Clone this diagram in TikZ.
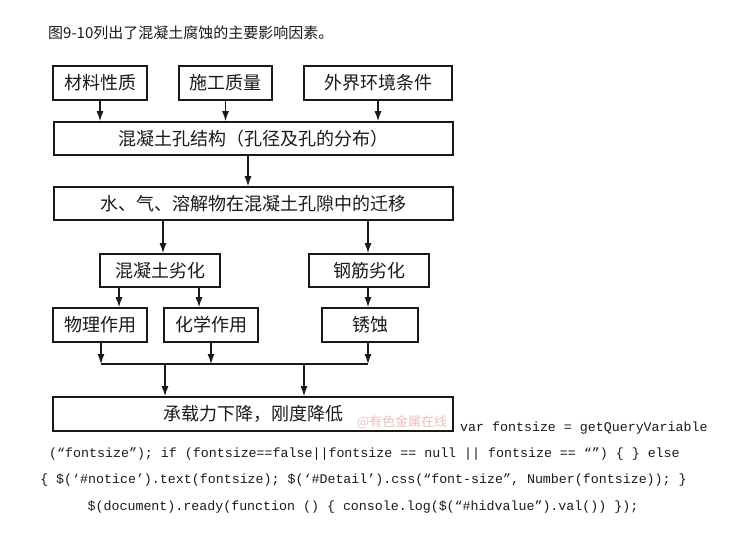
\documentclass[tikz,border=0pt]{standalone}
\usepackage{fontspec}
\newfontfamily\cjk{Noto Sans CJK SC}
\newfontfamily\codefont{Liberation Mono}
\usetikzlibrary{arrows.meta}
\definecolor{wmpink}{RGB}{238,188,188}
\definecolor{ink}{RGB}{25,25,25}
\begin{document}
\begin{tikzpicture}[x=1pt,y=-1pt,
  box/.style={draw=ink, line width=1.7pt, minimum height=34pt, inner sep=0pt,
    font=\cjk\fontsize{18}{20}\selectfont, text=ink},
  arr/.style={draw=ink, line width=1.2pt, -{Latex[length=10pt,width=7pt]}},
  bus/.style={draw=ink, line width=1.2pt},
  code/.style={inner sep=0pt, font=\codefont\fontsize{13.3}{16}\selectfont, text=ink},
  title/.style={inner sep=0pt, font=\cjk\fontsize{15}{17}\selectfont, text=ink}]
\useasboundingbox (0,0) rectangle (730,552);

\node[title, anchor=west] (t) at (48,33) {图9-10列出了混凝土腐蚀的主要影响因素。};

\node[box, minimum width=94pt] (n1) at (100,83) {材料性质};
\node[box, minimum width=93pt] (n2) at (225.5,83) {施工质量};
\node[box, minimum width=148pt] (n3) at (378,83) {外界环境条件};
\node[box, minimum width=399pt, minimum height=33pt] (n4) at (253.5,138.5) {混凝土孔结构（孔径及孔的分布）};
\node[box, minimum width=399pt, minimum height=33pt] (n5) at (253.5,203.5) {水、气、溶解物在混凝土孔隙中的迁移};
\node[box, minimum width=120pt, minimum height=33pt] (n6) at (160,270.5) {混凝土劣化};
\node[box, minimum width=120pt, minimum height=33pt] (n7) at (369,270.5) {钢筋劣化};
\node[box, minimum width=94pt] (n8) at (100,325) {物理作用};
\node[box, minimum width=94pt] (n9) at (211,325) {化学作用};
\node[box, minimum width=96pt] (n10) at (370,325) {锈蚀};
\node[box, minimum width=400pt] (n11) at (253,414) {承载力下降，刚度降低};

\node[inner sep=0pt, font=\cjk\fontsize{13}{14}\selectfont, text=wmpink] (wm) at (402,422) {@有色金属在线};

\draw[arr] (n1.south) -- (n1.south |- n4.north);
\draw[arr] (n2.south) -- (n2.south |- n4.north);
\draw[arr] (n3.south) -- (n3.south |- n4.north);

\coordinate (c45) at (248,0);
\draw[arr] (n4.south -| c45) -- (n5.north -| c45);

\coordinate (c56) at (163,0);
\coordinate (c57) at (368,0);
\draw[arr] (n5.south -| c56) -- (n6.north -| c56);
\draw[arr] (n5.south -| c57) -- (n7.north -| c57);

\coordinate (c68) at (119,0);
\coordinate (c69) at (199,0);
\draw[arr] (n6.south -| c68) -- (n8.north -| c68);
\draw[arr] (n6.south -| c69) -- (n9.north -| c69);
\draw[arr] (n7.south -| c57) -- (n10.north -| c57);

\coordinate (bL) at (101,364);
\coordinate (bM) at (211,364);
\coordinate (bR) at (368,364);
\draw[bus] (bL) -- (bR);
\draw[arr] (n8.south -| bL) -- (bL);
\draw[arr] (n9.south -| bM) -- (bM);
\draw[arr] (n10.south -| bR) -- (bR);

\coordinate (d1) at (165,364);
\coordinate (d2) at (304,364);
\draw[arr] (d1) -- (d1 |- n11.north);
\draw[arr] (d2) -- (d2 |- n11.north);

\node[code, anchor=base west] (l1) at (460,431) {var fontsize = getQueryVariable};
\node[code, anchor=base] (l2) at (364.5,457) {(“fontsize”); if (fontsize==false||fontsize == null || fontsize == “”) \{ \} else};
\node[code, anchor=base] (l3) at (363.5,483) {\{ \$(‘\#notice’).text(fontsize); \$(‘\#Detail’).css(“font-size”, Number(fontsize)); \}};
\node[code, anchor=base] (l4) at (363,510) {\$(document).ready(function () \{ console.log(\$(“\#hidvalue”).val()) \});};
\end{tikzpicture}
\end{document}
